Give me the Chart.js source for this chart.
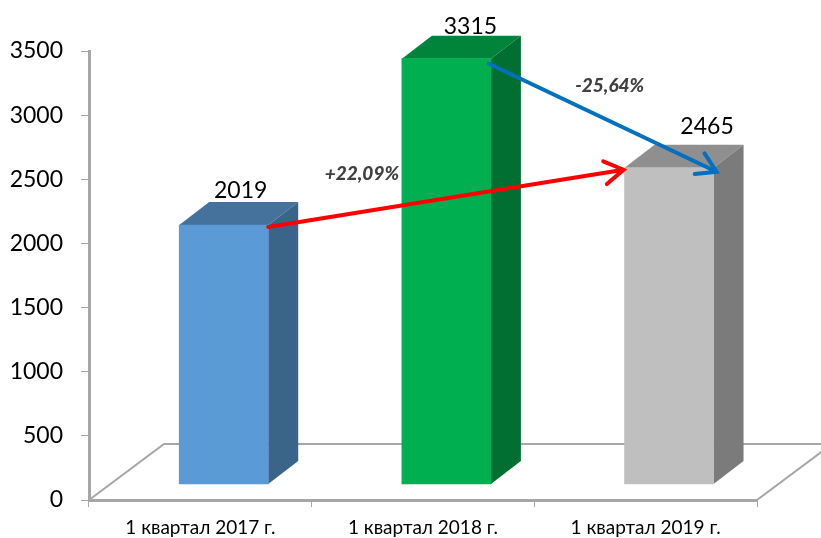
<!DOCTYPE html>
<html>
<head>
<meta charset="utf-8">
<script src="https://cdn.jsdelivr.net/npm/chart.js@4"></script>
<style>
  html, body { margin: 0; background: #fff; overflow: hidden; }
</style>
</head>
<body>
<canvas id="canvas" width="821" height="538"></canvas>
<script>
// DATA
const categories = ['1 квартал 2017 г.', '1 квартал 2018 г.', '1 квартал 2019 г.'];
const values = [2019, 3315, 2465];
const frontColors = ['#5b9bd5', '#00b050', '#bfbfbf'];
const topColors = ['#44729d', '#00843c', '#8f8f8f'];
const sideColors = ['#3a6589', '#006f31', '#7b7b7b'];
const changes = ['+22,09%', '-25,64%'];

const FONT = 'Lato, "Open Sans", sans-serif';
const LINE_GREY = '#a6a6a6';

// fake 3d: how far the faces and the floor go back
const barDepth = { x: 30, y: 23 };
const floorDepth = { x: 75, y: 56 };
// value labels are not placed the same way on each bar
const valueShift = [17, 24, 38];
const valueLift = [11, 9, 18];

function poly(ctx, pts, fill) {
  ctx.beginPath();
  pts.forEach((p, i) => i ? ctx.lineTo(p[0], p[1]) : ctx.moveTo(p[0], p[1]));
  ctx.closePath();
  ctx.fillStyle = fill;
  ctx.fill();
}

function arrow(ctx, from, to, color) {
  const ang = Math.atan2(to[1] - from[1], to[0] - from[0]);
  const arm = 22;
  ctx.save();
  ctx.strokeStyle = color;
  ctx.lineWidth = 4;
  ctx.lineCap = 'round';
  ctx.lineJoin = 'miter';
  ctx.beginPath();
  ctx.moveTo(from[0], from[1]);
  ctx.lineTo(to[0], to[1]);
  ctx.moveTo(to[0] - arm * Math.cos(ang - 0.55), to[1] - arm * Math.sin(ang - 0.55));
  ctx.lineTo(to[0], to[1]);
  ctx.lineTo(to[0] - arm * Math.cos(ang + 0.55), to[1] - arm * Math.sin(ang + 0.55));
  ctx.stroke();
  ctx.restore();
}

const fake3d = {
  id: 'fake3d',
  // floor and the side / top faces, under the bars
  beforeDatasetsDraw(chart) {
    const ctx = chart.ctx;
    const area = chart.chartArea;
    const y0 = chart.scales.y.getPixelForValue(0);
    ctx.save();
    ctx.strokeStyle = LINE_GREY;
    ctx.lineWidth = 2;
    ctx.beginPath();
    ctx.moveTo(area.left, y0);
    ctx.lineTo(area.left + floorDepth.x, y0 - floorDepth.y);
    ctx.lineTo(chart.width, y0 - floorDepth.y);
    ctx.moveTo(area.right, y0);
    ctx.lineTo(area.right + floorDepth.x, y0 - floorDepth.y);
    ctx.stroke();
    ctx.restore();

    chart.getDatasetMeta(0).data.forEach((bar, i) => {
      const l = bar.x - bar.width / 2;
      const r = bar.x + bar.width / 2;
      const d = barDepth;
      poly(ctx, [[l, bar.y], [l + d.x, bar.y - d.y], [r + d.x, bar.y - d.y], [r, bar.y]], topColors[i]);
      poly(ctx, [[r, bar.y], [r + d.x, bar.y - d.y], [r + d.x, bar.base - d.y], [r, bar.base]], sideColors[i]);
    });
  },
  // value labels, arrows and the percent notes
  afterDatasetsDraw(chart) {
    const ctx = chart.ctx;
    const bars = chart.getDatasetMeta(0).data;
    ctx.save();
    ctx.textAlign = 'center';
    ctx.textBaseline = 'middle';
    ctx.fillStyle = '#000';
    ctx.font = '23px ' + FONT;
    bars.forEach((bar, i) => {
      ctx.fillText(values[i], bar.x + valueShift[i], bar.y - barDepth.y - valueLift[i]);
    });

    const right = (b) => b.x + b.width / 2;
    const left = (b) => b.x - b.width / 2;
    const red = [[right(bars[0]), bars[0].y + 2], [left(bars[2]) - 1, bars[2].y + 2]];
    const blue = [[right(bars[1]) - 2, bars[1].y + 5], [right(bars[2]) + 3, bars[2].y + 4]];
    arrow(ctx, red[0], red[1], '#ff0000');
    arrow(ctx, blue[0], blue[1], '#0070c0');

    ctx.fillStyle = '#404040';
    ctx.font = 'italic 900 19px ' + FONT;
    ctx.fillText(changes[0], (red[0][0] + red[1][0]) / 2 - 84, (red[0][1] + red[1][1]) / 2 - 24);
    ctx.fillText(changes[1], (blue[0][0] + blue[1][0]) / 2 + 7, (blue[0][1] + blue[1][1]) / 2 - 32);
    ctx.restore();
  }
};

var ctx = document.getElementById('canvas').getContext('2d');
window.myBar = new Chart(ctx, {
  type: 'bar',
  data: {
    datasets: [{
      xAxisID: 'xBars',
      yAxisID: 'yBars',
      data: values.map((v, i) => ({ x: i, y: v })),
      backgroundColor: frontColors,
      barThickness: 89,
      borderWidth: 0
    }]
  },
  options: {
    responsive: false,
    animation: false,
    layout: { padding: { top: 51, right: 64, bottom: 0, left: 0 } },
    plugins: { legend: { display: false }, tooltip: { enabled: false } },
    scales: {
      // what you see
      x: {
        type: 'category',
        labels: categories,
        offset: true,
        position: 'bottom',
        afterFit: (s) => { s.height = 38; },
        border: { color: LINE_GREY, width: 3 },
        grid: { offset: true, drawOnChartArea: false, color: LINE_GREY, tickLength: 7, tickWidth: 1 },
        ticks: { color: '#000', font: { family: FONT, size: 19 }, maxRotation: 0, padding: 9 }
      },
      y: {
        min: 0,
        max: 3500,
        position: 'left',
        afterFit: (s) => { s.width = 89; },
        border: { color: LINE_GREY, width: 3 },
        grid: { drawOnChartArea: false, color: LINE_GREY, tickLength: 8, tickWidth: 1 },
        ticks: {
          stepSize: 500,
          color: '#000',
          font: { family: FONT, size: 23 },
          padding: 18,
          callback: (v) => String(v)
        }
      },
      // bars stand on the floor, a bit right of and above the axes
      xBars: { type: 'linear', display: false, offset: false, min: -0.605, max: 2.395 },
      yBars: { type: 'linear', display: false, min: -125, max: 3375 }
    }
  },
  plugins: [fake3d]
});
</script>
</body>
</html>
